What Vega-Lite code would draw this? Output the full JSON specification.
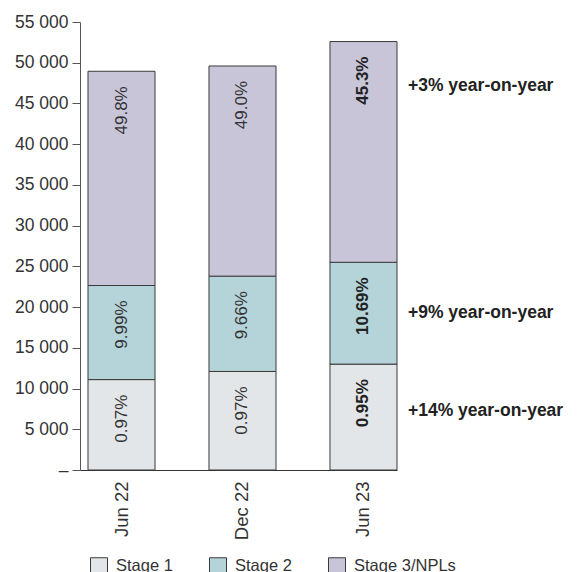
{
  "$schema": "https://vega.github.io/schema/vega-lite/v6.json",
  "autosize": "none",
  "width": 317,
  "height": 448,
  "padding": {"left": 80, "top": 22, "right": 180, "bottom": 102},
  "background": "white",
  "config": {
    "font": "Liberation Sans",
    "view": {"stroke": null},
    "axis": {"labelFont": "Liberation Sans", "labelColor": "#333333", "labelFontSize": 17.5, "domainColor": "#555555", "tickColor": "#555555", "grid": false}
  },
  "datasets": {
    "bars": [
      {"period": "Jun 22", "stage": "Stage 1", "order": 1, "value": 11100, "label": "0.97%"},
      {"period": "Jun 22", "stage": "Stage 2", "order": 2, "value": 11550, "label": "9.99%"},
      {"period": "Jun 22", "stage": "Stage 3/NPLs", "order": 3, "value": 26300, "label": "49.8%"},
      {"period": "Dec 22", "stage": "Stage 1", "order": 1, "value": 12100, "label": "0.97%"},
      {"period": "Dec 22", "stage": "Stage 2", "order": 2, "value": 11700, "label": "9.66%"},
      {"period": "Dec 22", "stage": "Stage 3/NPLs", "order": 3, "value": 25800, "label": "49.0%"},
      {"period": "Jun 23", "stage": "Stage 1", "order": 1, "value": 13000, "label": "0.95%"},
      {"period": "Jun 23", "stage": "Stage 2", "order": 2, "value": 12500, "label": "10.69%"},
      {"period": "Jun 23", "stage": "Stage 3/NPLs", "order": 3, "value": 27100, "label": "45.3%"}
    ],
    "notes": [
      {"period": "Jun 23", "y": 47150, "note": "+3% year-on-year"},
      {"period": "Jun 23", "y": 19250, "note": "+9% year-on-year"},
      {"period": "Jun 23", "y": 7250, "note": "+14% year-on-year"}
    ]
  },
  "data": {"name": "bars"},
  "transform": [
    {"stack": "value", "groupby": ["period"], "sort": [{"field": "order", "order": "ascending"}], "as": ["v0", "v1"]}
  ],
  "encoding": {
    "x": {
      "field": "period", "type": "nominal", "sort": ["Jun 22", "Dec 22", "Jun 23"],
      "scale": {"paddingInner": 0.446, "paddingOuter": 0.033, "align": 1},
      "axis": {"title": null, "ticks": false, "labelAngle": -90, "labelPadding": 11, "domainColor": "#333333", "labelFontSize": 18.5}
    }
  },
  "layer": [
    {
      "mark": {"type": "bar", "stroke": "#3a3a3a", "strokeWidth": 1},
      "encoding": {
        "y": {
          "field": "v1", "type": "quantitative",
          "scale": {"domain": [0, 55000], "nice": false},
          "axis": {
            "title": null, "values": [0, 5000, 10000, 15000, 20000, 25000, 30000, 35000, 40000, 45000, 50000, 55000],
            "tickSize": 8, "labelPadding": 4,
            "labelExpr": "datum.value == 0 ? '–' : replace(format(datum.value, ','), ',', ' ')"
          }
        },
        "y2": {"field": "v0"},
        "color": {
          "field": "stage", "type": "nominal",
          "scale": {"domain": ["Stage 1", "Stage 2", "Stage 3/NPLs"], "range": ["#e3e6e9", "#b5d4d9", "#c8c5d9"]},
          "legend": {
            "title": null, "orient": "none", "direction": "horizontal", "legendX": 10, "legendY": 535,
            "padding": 0, "symbolType": "square", "symbolSize": 289, "symbolStrokeColor": "#3a3a3a", "symbolStrokeWidth": 1,
            "labelFontSize": 16.5, "labelColor": "#333333", "labelOffset": 8, "columnPadding": 34, "labelFont": "Liberation Sans"
          }
        }
      }
    },
    {
      "transform": [{"filter": "datum.period !== 'Jun 23'"}],
      "mark": {"type": "text", "angle": 270, "align": "right", "baseline": "middle", "dx": -15, "fontSize": 17, "color": "#333333"},
      "encoding": {
        "y": {"field": "v1", "type": "quantitative"},
        "text": {"field": "label"}
      }
    },
    {
      "transform": [{"filter": "datum.period === 'Jun 23'"}],
      "mark": {"type": "text", "angle": 270, "align": "right", "baseline": "middle", "dx": -15, "fontSize": 17, "fontWeight": "bold", "color": "#222222"},
      "encoding": {
        "y": {"field": "v1", "type": "quantitative"},
        "text": {"field": "label"}
      }
    },
    {
      "data": {"name": "notes"},
      "mark": {"type": "text", "align": "left", "baseline": "middle", "dx": 11, "fontSize": 17.5, "fontWeight": "bold", "color": "#222222"},
      "encoding": {
        "x": {"field": "period", "type": "nominal", "bandPosition": 1},
        "y": {"field": "y", "type": "quantitative"},
        "text": {"field": "note"}
      }
    }
  ]
}
